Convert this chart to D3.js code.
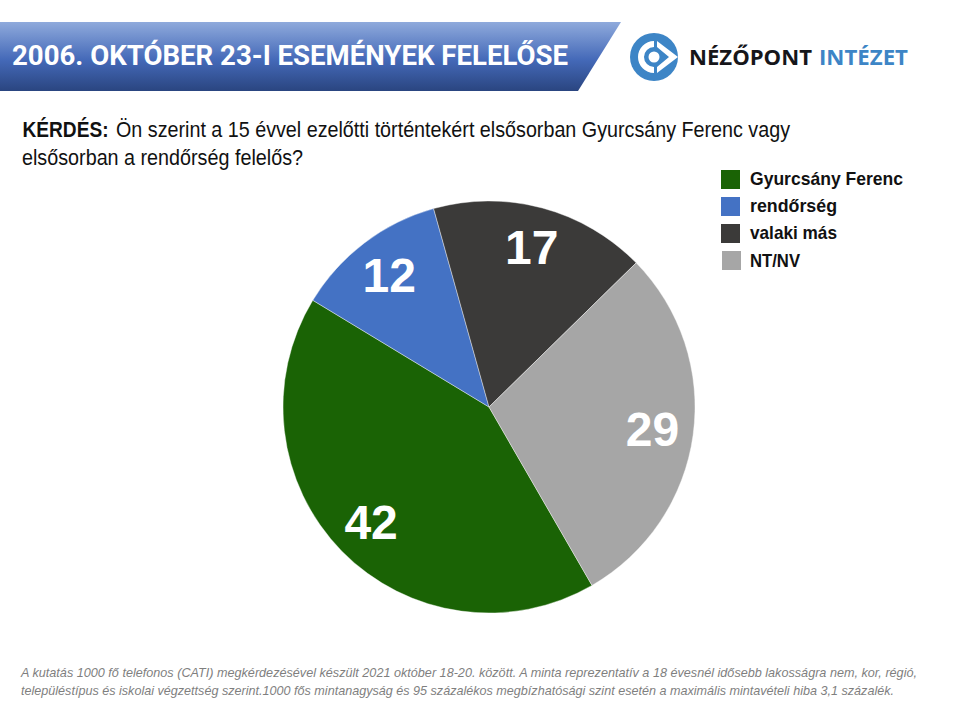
<!DOCTYPE html>
<html><head><meta charset="utf-8">
<script src="https://cdn.jsdelivr.net/npm/d3@7"></script>
<style>html,body{margin:0;padding:0;background:#fff}svg{display:block}text{font-family:"Liberation Sans",Arial,sans-serif}</style>
</head><body><div id="c"></div>
<script>
const categories = ["Gyurcsány Ferenc","rendőrség","valaki más","NT/NV"];
const values = [42,12,17,29];
const colors = ["#1a6305","#4472c4","#3b3a39","#a6a6a6"];
const questionLines = ["Ön szerint a 15 évvel ezelőtti történtekért elsősorban Gyurcsány Ferenc vagy","elsősorban a rendőrség felelős?"];
const footLines = ["A kutatás 1000 fő telefonos (CATI) megkérdezésével készült 2021 október 18-20. között. A minta reprezentatív a 18 évesnél idősebb lakosságra nem, kor, régió,","településtípus és iskolai végzettség szerint.1000 fős mintanagyság és 95 százalékos megbízhatósági szint esetén a maximális mintavételi hiba 3,1 százalék."];
const title = "2006. OKTÓBER 23-I ESEMÉNYEK FELELŐSE";

const svg = d3.select("#c").append("svg").attr("width",960).attr("height",720);
const defs = svg.append("defs");
const g = defs.append("linearGradient").attr("id","ban").attr("x1",0).attr("x2",0).attr("y1",0).attr("y2",1);
[[0,"#8faadc"],[0.55,"#4469b8"],[1,"#2a4580"]].forEach(d=>g.append("stop").attr("offset",d[0]).attr("stop-color",d[1]));
svg.append("path").attr("d","M0,22H621L578,91H0Z").attr("fill","url(#ban)");
svg.append("text").attr("x",12).attr("y",65).attr("fill","#fff").attr("font-size",28).attr("font-weight",700)
  .style("font-family","Roboto, 'Liberation Sans'").attr("textLength",556).attr("lengthAdjust","spacingAndGlyphs").text(title);

// logo
const lg = svg.append("g").attr("transform","translate(654,57)");
lg.append("circle").attr("r",24).attr("fill","#3d85c6");
lg.append("path").attr("d","M0,-16 A16,16 0 0 0 0,16 L0,10 A10,10 0 0 1 0,-10Z").attr("fill","#fff");
lg.append("path").attr("d","M3,-16 L24,0 L3,16 L3,10 L15,0 L3,-10Z").attr("fill","#fff");
lg.append("circle").attr("r",5.5).attr("cx",0).attr("fill","#fff");
svg.append("text").attr("x",689).attr("y",65).attr("font-size",22).attr("font-weight",700).attr("fill","#16161a")
  .style("font-family","'Open Sans'").attr("textLength",123).attr("lengthAdjust","spacingAndGlyphs").text("NÉZŐPONT");
svg.append("text").attr("x",819).attr("y",65).attr("font-size",22).attr("font-weight",700).attr("fill","#3d85c6")
  .style("font-family","'Open Sans'").attr("textLength",89).attr("lengthAdjust","spacingAndGlyphs").text("INTÉZET");

// question
svg.append("text").attr("x",22.5).attr("y",137).attr("font-size",22).attr("font-weight",700).attr("fill","#111")
  .attr("textLength",86).attr("lengthAdjust","spacingAndGlyphs").text("KÉRDÉS:");
svg.append("text").attr("x",116).attr("y",137).attr("font-size",22).attr("fill","#111")
  .attr("textLength",674).attr("lengthAdjust","spacingAndGlyphs").text(questionLines[0]);
svg.append("text").attr("x",22).attr("y",165).attr("font-size",22).attr("fill","#111")
  .attr("textLength",281).attr("lengthAdjust","spacingAndGlyphs").text(questionLines[1]);

// pie
const cx=489, cy=407, R=206;
const start = 150*Math.PI/180;
const pie = d3.pie().sort(null).startAngle(start).endAngle(start+2*Math.PI);
const arcs = pie(values);
const arc = d3.arc().innerRadius(0).outerRadius(R);
const pg = svg.append("g").attr("transform",`translate(${cx},${cy})`);
pg.selectAll("path").data(arcs).join("path").attr("d",arc).attr("fill",(d,i)=>colors[i]).attr("stroke","#fff").attr("stroke-width",0.4);
const labelArc = d3.arc().innerRadius(0).outerRadius(330);
pg.selectAll("text").data(arcs).join("text")
  .attr("transform",d=>`translate(${labelArc.centroid(d)})`)
  .attr("text-anchor","middle").attr("dy","0.34em").attr("fill","#fff")
  .attr("font-size",48).attr("font-weight",700).text(d=>d.data);

// legend
const ly = d3.scalePoint().domain(categories).range([179.5,260.5]);
const leg = svg.append("g").selectAll("g").data(categories).join("g").attr("transform",d=>`translate(0,${ly(d)})`);
leg.append("rect").attr("x",(d,i)=>i==3?722:721).attr("y",-9.5).attr("width",19).attr("height",19).attr("fill",(d,i)=>colors[i]);
leg.append("text").attr("x",750).attr("y",(d,i)=>i==3?6:5).attr("font-size",19).attr("font-weight",700).attr("fill","#111")
  .attr("textLength",(d,i)=>[153,87,87,50][i]).attr("lengthAdjust","spacingAndGlyphs").text(d=>d);

// footnote
svg.append("text").attr("x",21).attr("y",677).attr("font-size",13).attr("font-style","italic").attr("fill","#7f7f7f")
  .attr("textLength",896).attr("lengthAdjust","spacingAndGlyphs").text(footLines[0]);
svg.append("text").attr("x",21).attr("y",695).attr("font-size",13).attr("font-style","italic").attr("fill","#7f7f7f")
  .attr("textLength",873).attr("lengthAdjust","spacingAndGlyphs").text(footLines[1]);
</script></body></html>
